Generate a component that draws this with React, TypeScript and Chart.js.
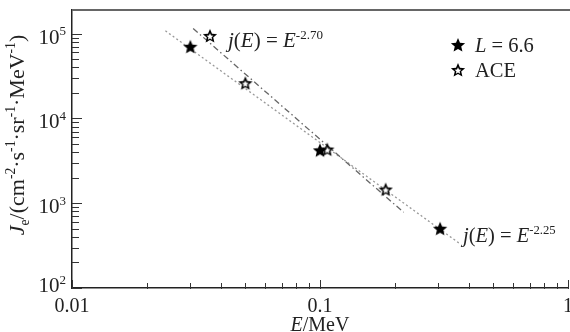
import React, { useEffect, useRef } from "react";
import { Chart, registerables } from "chart.js";

Chart.register(...registerables);

// ---- data ----
const lShellLabel = "L = 6.6";
const lShellE = [0.03, 0.1, 0.305];
const lShellJ = [7.0e4, 4.2e3, 5.0e2];

const aceLabel = "ACE";
const aceE = [0.036, 0.05, 0.107, 0.184];
const aceJ = [9.4e4, 2.6e4, 4.3e3, 1.45e3];

const fitSteepE = [0.0308, 0.2175];
const fitSteepJ = [1.15e5, 7.8e2];
const fitSteepExp = "-2.70";

const fitFlatE = [0.0238, 0.363];
const fitFlatJ = [1.08e5, 3.4e2];
const fitFlatExp = "-2.25";

const xTickValues = [0.01, 0.1, 1];
const xTickLabels = ["0.01", "0.1", "1"];
const yTickValues = [1e2, 1e3, 1e4, 1e5];
const yTickExps = ["2", "3", "4", "5"];
const minorMultipliers = [2, 3, 4, 5, 6, 7, 8, 9];

const X_MIN = 0.01, X_MAX = 1;
const Y_MIN = 100, Y_MAX = 1.9e5;

const FONT = '"Liberation Serif", "Times New Roman", serif';

type Seg = { t: string; i?: boolean; sup?: boolean; sub?: boolean };

function segFont(s: Seg, size: number) {
  const sz = s.sup || s.sub ? size * 0.62 : size;
  return `${s.i ? "italic " : ""}${sz}px ${FONT}`;
}
function richWidth(ctx: CanvasRenderingContext2D, segs: Seg[], size: number) {
  let w = 0;
  for (const s of segs) {
    ctx.font = segFont(s, size);
    w += ctx.measureText(s.t).width;
  }
  return w;
}
function drawRich(
  ctx: CanvasRenderingContext2D,
  segs: Seg[],
  x: number,
  y: number,
  size: number,
  align: "left" | "center" | "right" = "left"
) {
  const w = richWidth(ctx, segs, size);
  let cx = align === "left" ? x : align === "center" ? x - w / 2 : x - w;
  ctx.textAlign = "left";
  ctx.textBaseline = "alphabetic";
  for (const s of segs) {
    ctx.font = segFont(s, size);
    const dy = s.sup ? -size * 0.4 : s.sub ? size * 0.22 : 0;
    ctx.fillText(s.t, cx, y + dy);
    cx += ctx.measureText(s.t).width;
  }
}

function starPath(ctx: CanvasRenderingContext2D, cx: number, cy: number, R: number, r: number) {
  ctx.beginPath();
  for (let k = 0; k < 10; k++) {
    const rad = k % 2 === 0 ? R : r;
    const a = -Math.PI / 2 + (k * Math.PI) / 5;
    const px = cx + rad * Math.cos(a);
    const py = cy + rad * Math.sin(a);
    if (k === 0) ctx.moveTo(px, py);
    else ctx.lineTo(px, py);
  }
  ctx.closePath();
}

function makeStar(open: boolean) {
  const c = document.createElement("canvas");
  c.width = 18;
  c.height = 18;
  const g = c.getContext("2d")!;
  starPath(g, 9, 9.5, 7.5, 3.4);
  g.fillStyle = "#000";
  g.fill();
  if (open) {
    starPath(g, 9, 9.8, 3.6, 1.7);
    g.fillStyle = "#fff";
    g.fill();
  }
  return c;
}

export default function App() {
  const ref = useRef<HTMLCanvasElement | null>(null);

  useEffect(() => {
    const canvas = ref.current;
    if (!canvas) return;
    const filledStar = makeStar(false);
    const openStar = makeStar(true);

    const decor = {
      id: "decor",
      afterDraw(chart: any) {
        const ctx: CanvasRenderingContext2D = chart.ctx;
        const xs = chart.scales.x;
        const ys = chart.scales.y;
        const { left, right, top, bottom } = chart.chartArea;
        ctx.save();
        ctx.fillStyle = "#222";

        // top frame line
        ctx.strokeStyle = "#666";
        ctx.lineWidth = 2;
        ctx.beginPath();
        ctx.moveTo(left, top);
        ctx.lineTo(right + 2, top);
        ctx.stroke();

        // ticks (inward)
        ctx.strokeStyle = "#333";
        ctx.lineWidth = 1;
        const xDecades = [0.01, 0.1];
        for (const v of xTickValues) {
          const px = Math.round(xs.getPixelForValue(v)) + 0.5;
          ctx.beginPath();
          ctx.moveTo(px, bottom + 1);
          ctx.lineTo(px, bottom - 8);
          ctx.stroke();
        }
        for (const d of xDecades) {
          for (const m of minorMultipliers) {
            const px = Math.round(xs.getPixelForValue(d * m)) + 0.5;
            ctx.beginPath();
            ctx.moveTo(px, bottom + 1);
            ctx.lineTo(px, bottom - 5);
            ctx.stroke();
          }
        }
        for (const v of yTickValues) {
          const py = Math.round(ys.getPixelForValue(v)) + 0.5;
          ctx.beginPath();
          ctx.moveTo(left, py);
          ctx.lineTo(left + 10, py);
          ctx.stroke();
        }
        for (const d of [1e2, 1e3, 1e4]) {
          for (const m of minorMultipliers) {
            const py = Math.round(ys.getPixelForValue(d * m)) + 0.5;
            ctx.beginPath();
            ctx.moveTo(left, py);
            ctx.lineTo(left + 7, py);
            ctx.stroke();
          }
        }

        // tick labels
        ctx.fillStyle = "#222";
        xTickValues.forEach((v, k) => {
          const px = xs.getPixelForValue(v);
          drawRich(ctx, [{ t: xTickLabels[k] }], px, 312, 20, "center");
        });
        yTickValues.forEach((v, k) => {
          const py = ys.getPixelForValue(v);
          const base = k === 0 ? py + 4 : py + 10;
          drawRich(ctx, [{ t: "10" }, { t: yTickExps[k], sup: true }], 66, base, 21, "right");
        });

        // axis titles
        drawRich(ctx, [{ t: "E", i: true }, { t: "/MeV" }], xs.getPixelForValue(0.1), 331, 20, "center");
        ctx.save();
        ctx.translate(24, 135);
        ctx.rotate(-Math.PI / 2);
        drawRich(
          ctx,
          [
            { t: "J", i: true },
            { t: "e", sub: true },
            { t: "/(cm" },
            { t: "-2", sup: true },
            { t: "·s" },
            { t: "-1", sup: true },
            { t: "·sr" },
            { t: "-1", sup: true },
            { t: "·MeV" },
            { t: "-1", sup: true },
            { t: ")" },
          ],
          0,
          0,
          22,
          "center"
        );
        ctx.restore();

        // fit labels
        const fitLabel = (exp: string): Seg[] => [
          { t: "j", i: true },
          { t: "(" },
          { t: "E", i: true },
          { t: ") = " },
          { t: "E", i: true },
          { t: exp, sup: true },
        ];
        drawRich(ctx, fitLabel(fitSteepExp), 228, 47, 21, "left");
        drawRich(ctx, fitLabel(fitFlatExp), 463, 242, 20.5, "left");

        // legend
        ctx.drawImage(filledStar, 458 - 9, 45 - 9);
        ctx.drawImage(openStar, 458 - 9, 70 - 9);
        drawRich(ctx, [{ t: "L", i: true }, { t: " = 6.6" }], 475, 52, 20.5, "left");
        drawRich(ctx, [{ t: "ACE" }], 475, 77, 20.5, "left");
        ctx.restore();
      },
    };

    const toPts = (xs: number[], ys: number[]) => xs.map((x, k) => ({ x, y: ys[k] }));

    const chart = new Chart(canvas, {
      type: "scatter",
      data: {
        datasets: [
          {
            label: "j(E) = E^" + fitSteepExp,
            data: toPts(fitSteepE, fitSteepJ),
            showLine: true,
            borderColor: "#666",
            borderWidth: 1.3,
            borderDash: [6, 3, 1.5, 3],
            pointRadius: 0,
            order: 3,
          },
          {
            label: "j(E) = E^" + fitFlatExp,
            data: toPts(fitFlatE, fitFlatJ),
            showLine: true,
            borderColor: "#999",
            borderWidth: 1.3,
            borderDash: [2, 2.5],
            pointRadius: 0,
            order: 4,
          },
          {
            label: lShellLabel,
            data: toPts(lShellE, lShellJ),
            pointStyle: filledStar as any,
            pointRadius: 8,
            showLine: false,
            order: 1,
          },
          {
            label: aceLabel,
            data: toPts(aceE, aceJ),
            pointStyle: openStar as any,
            pointRadius: 8,
            showLine: false,
            order: 2,
          },
        ],
      },
      options: {
        responsive: false,
        animation: false,
        events: [],
        layout: { autoPadding: false, padding: { left: 0, right: 2, top: 10, bottom: 0 } },
        plugins: {
          legend: { display: false },
          tooltip: { enabled: false },
        },
        scales: {
          x: {
            type: "logarithmic",
            min: X_MIN,
            max: X_MAX,
            grid: { display: false, drawTicks: false },
            border: { display: true, color: "#222", width: 1.5 },
            ticks: { display: false },
            afterFit: (s: any) => {
              s.height = 44;
              s.paddingLeft = 0;
              s.paddingRight = 0;
            },
          },
          y: {
            type: "logarithmic",
            min: Y_MIN,
            max: Y_MAX,
            grid: { display: false, drawTicks: false },
            border: { display: true, color: "#222", width: 1.5 },
            ticks: { display: false },
            afterFit: (s: any) => {
              s.width = 72;
              s.paddingTop = 0;
              s.paddingBottom = 0;
            },
          },
        },
      },
      plugins: [decor],
    } as any);

    return () => chart.destroy();
  }, []);

  return (
    <div style={{ position: "absolute", left: 0, top: 0, width: 570, height: 332, background: "#fff", overflow: "hidden" }}>
      <canvas ref={ref} width={570} height={332} style={{ width: 570, height: 332, display: "block" }} />
    </div>
  );
}
